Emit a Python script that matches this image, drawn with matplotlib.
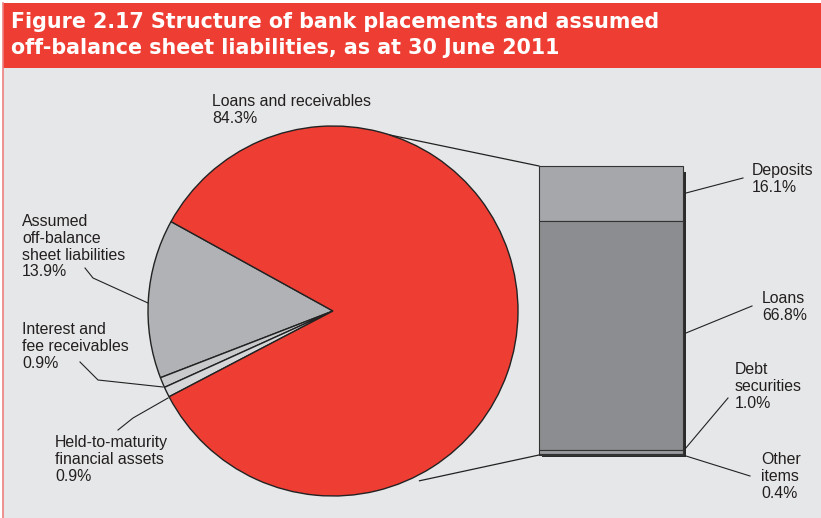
import numpy as np
import matplotlib.pyplot as plt
from matplotlib.patches import Rectangle

plt.rcParams['font.family'] = ['Liberation Sans', 'DejaVu Sans']

# pie data
pie_labels = ["Assumed\noff-balance\nsheet liabilities", "Interest and\nfee receivables",
              "Held-to-maturity\nfinancial assets", "Loans and receivables"]
pie_values = [13.9, 0.9, 0.9, 84.3]
pie_colors = ["#b1b2b5", "#c9cacc", "#d6d7d9", "#ee3e34"]

# breakdown of loans and receivables
bar_labels = ["Deposits", "Loans", "Debt\nsecurities", "Other\nitems"]
bar_values = [16.1, 66.8, 1.0, 0.4]
bar_colors = ["#a6a7aa", "#8c8d90", "#9a9b9e", "#6d6e71"]

W, H = 821, 518
fig = plt.figure(figsize=(W / 100, H / 100), dpi=100)
fig.patch.set_facecolor("white")
ax = fig.add_axes([0, 0, 1, 1])


def Y(py):
    # pixel row -> axis y
    return H - py


# pie
cx, cy, r = 333, Y(311), 185
ax.pie(pie_values, colors=pie_colors, startangle=151.1, counterclock=True,
       center=(cx, cy), radius=r, frame=True,
       wedgeprops=dict(edgecolor="#222222", linewidth=1.0, zorder=2))
ax.set_xlim(0, W)
ax.set_ylim(0, H)
ax.axis("off")
ax.set_aspect("equal")

# background and title band
ax.add_patch(Rectangle((3, 0), W - 3, Y(68), facecolor="#e6e7e8", edgecolor="none", zorder=0))
ax.add_patch(Rectangle((3, Y(68)), W - 3, 65, facecolor="#ee3e34", edgecolor="none", zorder=0))
ax.plot([3, 3], [0, Y(3)], color="#ee8080", lw=1.2, zorder=1)
title_font = dict(fontsize=14.9, fontweight="bold", color="white", va="center",
                  family=["DejaVu Sans"])
ax.text(11, Y(22), "Figure 2.17 Structure of bank placements and assumed", **title_font)
ax.text(11, Y(48), "off-balance sheet liabilities, as at 30 June 2011", **title_font)

# stacked bar for loans and receivables
bx, bw = 539, 144
btop, bbot = Y(166), Y(455)
scale = (btop - bbot) / sum(bar_values)
tops = btop - scale * np.concatenate([[0], np.cumsum(bar_values)[:-1]])
heights = scale * np.array(bar_values)
ax.add_patch(Rectangle((bx + 3, bbot - 2), bw, btop - bbot - 4,
                       facecolor="#2b2b2b", edgecolor="none", zorder=2))
ax.bar([bx + bw / 2] * 4, heights, width=bw, bottom=tops - heights,
       color=bar_colors, edgecolor="#333333", linewidth=0.8, zorder=3)

# connector lines between pie and bar
a1, a2 = np.radians(72), np.radians(-63)
ax.plot([cx + r * np.cos(a1), bx], [cy + r * np.sin(a1), btop], color="#222222", lw=0.9, zorder=4)
ax.plot([cx + r * 1.03 * np.cos(a2), bx], [cy + r * 1.03 * np.sin(a2), bbot], color="#222222", lw=0.9, zorder=4)

fs = 11.4
tc = "#231f20"
ls = 1.15
# pie labels
ax.text(212, Y(94), "Loans and receivables\n84.3%", fontsize=fs, color=tc, va="top", linespacing=ls)
ax.text(22, Y(214), pie_labels[0] + "\n13.9%", fontsize=fs, color=tc, va="top", linespacing=ls)
ax.text(22, Y(322), pie_labels[1] + "\n0.9%", fontsize=fs, color=tc, va="top", linespacing=ls)
ax.text(55, Y(435), pie_labels[2] + "\n0.9%", fontsize=fs, color=tc, va="top", linespacing=ls)
ax.plot([85, 93, 148], [Y(268), Y(278), Y(303)], color="#222222", lw=0.8)
ax.plot([80, 98, 163], [Y(362), Y(380), Y(387)], color="#222222", lw=0.8)
ax.plot([118, 133, 168], [Y(430), Y(418), Y(398)], color="#222222", lw=0.8)

# bar labels
bar_text = [f"{l}\n{v:.1f}%" for l, v in zip(bar_labels, bar_values)]
ax.text(752, Y(163), bar_text[0], fontsize=fs, color=tc, va="top", ha="left", linespacing=ls)
ax.text(762, Y(291), bar_text[1], fontsize=fs, color=tc, va="top", ha="left", linespacing=ls)
ax.text(735, Y(362), bar_text[2], fontsize=fs, color=tc, va="top", ha="left", linespacing=ls)
ax.text(761, Y(452), bar_text[3], fontsize=fs, color=tc, va="top", ha="left", linespacing=ls)
ax.plot([686, 743], [Y(193), Y(178)], color="#222222", lw=0.8)
ax.plot([686, 752], [Y(333), Y(306)], color="#222222", lw=0.8)
ax.plot([685, 728], [Y(449), Y(398)], color="#222222", lw=0.8)
ax.plot([686, 750], [Y(456), Y(476)], color="#222222", lw=0.8)

fig.savefig("out.png", dpi=100)
